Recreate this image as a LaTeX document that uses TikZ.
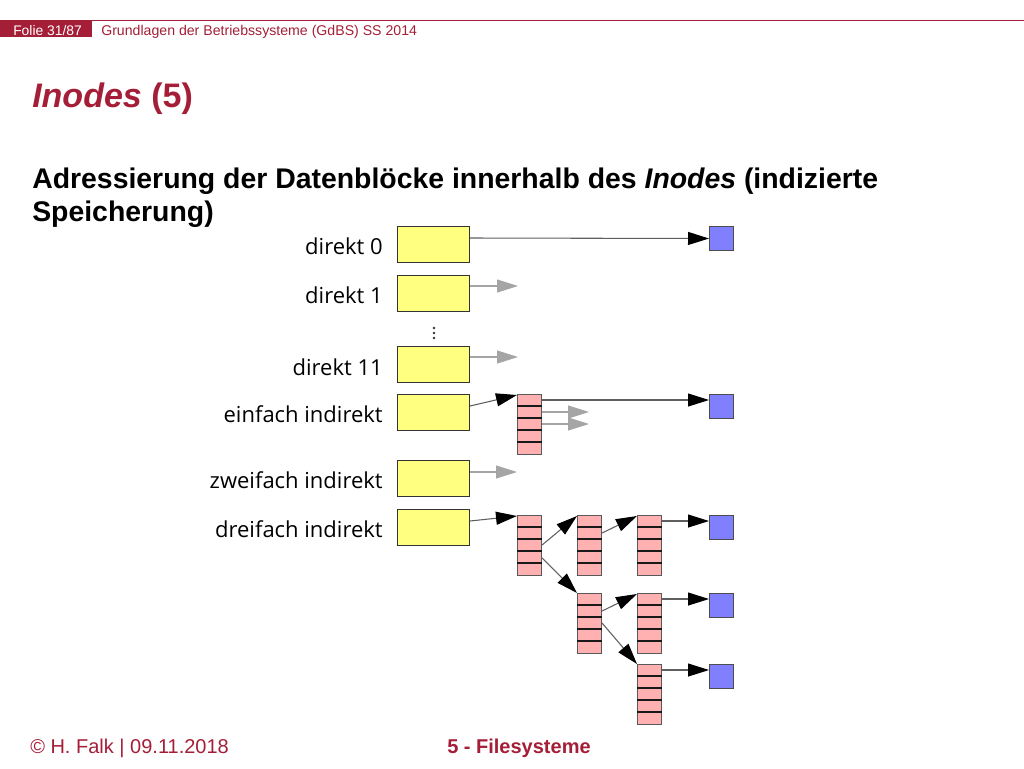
\documentclass[tikz,border=0pt]{standalone}
\usepackage{fontspec}
\setmainfont{Liberation Sans}
\newfontfamily\lblfont{Open Sans}
\usetikzlibrary{arrows.meta}
\definecolor{slidered}{RGB}{165,30,55}
\definecolor{yel}{RGB}{255,255,128}
\definecolor{pnk}{RGB}{255,176,176}
\definecolor{blu}{RGB}{128,128,255}
\definecolor{lngray}{RGB}{95,95,95}
\definecolor{stubgray}{RGB}{165,165,165}
\tikzset{
  ybox/.style={draw=black!80, fill=yel, line width=0.8pt, minimum width=54pt, minimum height=27pt, inner sep=0pt, anchor=north west},
  pblk/.style={draw=black!65, fill=pnk, line width=0.8pt, minimum width=18pt, minimum height=45pt, inner sep=0pt, anchor=north west},
  bbox/.style={draw=black!70, fill=blu, line width=0.75pt, minimum width=18pt, minimum height=18pt, inner sep=0pt, anchor=north west},
  lbl/.style={font=\lblfont\fontsize{16.5pt}{19pt}\selectfont, text=black, inner sep=0pt, anchor=base east},
  ptr/.style={draw=lngray, line width=0.8pt, -{Triangle[length=15.75pt, width=9.75pt, fill=black, color=black]}},
  stub/.style={draw=stubgray, line width=0.8pt, -{Triangle[length=15.75pt, width=9.75pt, fill=stubgray, color=stubgray]}},
  rowline/.style={draw=black!90, line width=0.9pt}
}
\begin{document}
\begin{tikzpicture}[x=0.75pt,y=-0.75pt]
\path[use as bounding box] (0,0) rectangle (1024,768);
% header
\fill[slidered] (0,20) rectangle (92,37);
\draw[slidered, line width=1.1pt] (92,20.5) -- (1024,20.5);
\node[anchor=base west, inner sep=0pt, text=white, font=\fontsize{10.4pt}{12pt}\selectfont] (folie) at (13,35) {Folie 31/87};
\node[anchor=base west, inner sep=0pt, text=slidered, font=\fontsize{10.6pt}{12pt}\selectfont] (course) at (101,35) {Grundlagen der Betriebssysteme (GdBS) SS 2014};
% title
\node[anchor=base west, inner sep=0pt, text=slidered, font=\bfseries\fontsize{25.5pt}{30pt}\selectfont] (title) at (32,107) {\textit{Inodes} (5)};
% subtitle
\node[anchor=base west, inner sep=0pt, text=black, font=\bfseries\fontsize{21.3pt}{25pt}\selectfont] (sub) at (32,188) {Adressierung der Datenblöcke innerhalb des \textit{Inodes} (indizierte};
\node[anchor=base west, inner sep=0pt, text=black, font=\bfseries\fontsize{21.3pt}{25pt}\selectfont] (sub2) at (32,221) {Speicherung)};
% yellow inode entries
\node[ybox] (d0) at (397,226) {};
\node[ybox] (d1) at (397,275) {};
\node[ybox] (d11) at (397,346) {};
\node[ybox] (e1) at (397,394) {};
\node[ybox] (e2) at (397,460) {};
\node[ybox] (e3) at (397,509) {};
% labels
\node[lbl] (l0) at (383,254) {direkt 0};
\node[lbl] (l1) at (383,303) {direkt 1};
\node[lbl] (l11) at (383,375) {direkt 11};
\node[lbl] (le1) at (383,422) {einfach indirekt};
\node[lbl] (le2) at (383,488) {zweifach indirekt};
\node[lbl] (le3) at (383,537) {dreifach indirekt};
% dots
\foreach \yy in {328,333,338} \fill[black!80] (434,\yy) circle[radius=1.1pt];
% index blocks
\node[pblk] (P1) at (517,394) {};
\node[pblk] (A) at (517,515) {};
\node[pblk] (B) at (577,515) {};
\node[pblk] (C) at (637,515) {};
\node[pblk] (D) at (577,593) {};
\node[pblk] (E) at (637,593) {};
\node[pblk] (F) at (637,664) {};
\foreach \n in {P1,A,B,C,D,E,F}
  \foreach \k in {1,2,3,4}
    \draw[rowline] ([yshift=-\k*9pt]\n.north west) -- ([yshift=-\k*9pt]\n.north east);
% data blocks
\node[bbox] (b0) at (709,226) {};
\node[bbox] (b1) at (709,394) {};
\node[bbox] (b3) at (709,515) {};
\node[bbox] (b4) at (709,593) {};
\node[bbox] (b5) at (709,664) {};
% stub end points
\coordinate (s1) at (518,286);
\coordinate (s11) at (518,357);
\coordinate (s2) at (517,472);
\coordinate (sp1) at (589,412);
\coordinate (sp2) at (589,424);
% connectors
\draw[ptr] ([yshift=-9pt]d0.north east) -- (b0.west);
\draw[stub] ([yshift=-8.25pt]d1.north east) -- (s1);
\draw[stub] ([yshift=-8.25pt]d11.north east) -- (s11);
\draw[ptr] ([yshift=-9pt]e1.north east) -- ([yshift=-0.75pt]P1.north west);
\draw[ptr] ([yshift=-4.5pt]P1.north east) -- ([yshift=-4.5pt]b1.north west);
\draw[stub] ([yshift=-13.5pt]P1.north east) -- (sp1);
\draw[stub] ([yshift=-22.5pt]P1.north east) -- (sp2);
\draw[stub] ([yshift=-9pt]e2.north east) -- (s2);
\draw[ptr] ([yshift=-9pt]e3.north east) -- ([yshift=-0.75pt]A.north west);
\draw[ptr] ([yshift=-22.5pt]A.north east) -- ([yshift=-0.75pt]B.north west);
\draw[ptr] ([yshift=-13.5pt]B.north east) -- ([yshift=-0.75pt]C.north west);
\draw[ptr] ([yshift=-4.5pt]C.north east) -- ([yshift=-4.5pt]b3.north west);
\draw[ptr] ([yshift=-32.25pt]A.north east) -- (D.north west);
\draw[ptr] ([yshift=-13.5pt]D.north east) -- ([yshift=-0.75pt]E.north west);
\draw[ptr] ([yshift=-22.5pt]D.north east) -- (F.north west);
\draw[ptr] ([yshift=-4.5pt]E.north east) -- ([yshift=-4.5pt]b4.north west);
\draw[ptr] ([yshift=-4.5pt]F.north east) -- ([yshift=-4.5pt]b5.north west);
% footer
\node[anchor=base west, inner sep=0pt, text=slidered, font=\fontsize{15pt}{18pt}\selectfont] (foot1) at (30,753) {© H. Falk | 09.11.2018};
\node[anchor=base west, inner sep=0pt, text=slidered, font=\bfseries\fontsize{15pt}{18pt}\selectfont] (foot2) at (447,753) {5 - Filesysteme};
\end{tikzpicture}
\end{document}
